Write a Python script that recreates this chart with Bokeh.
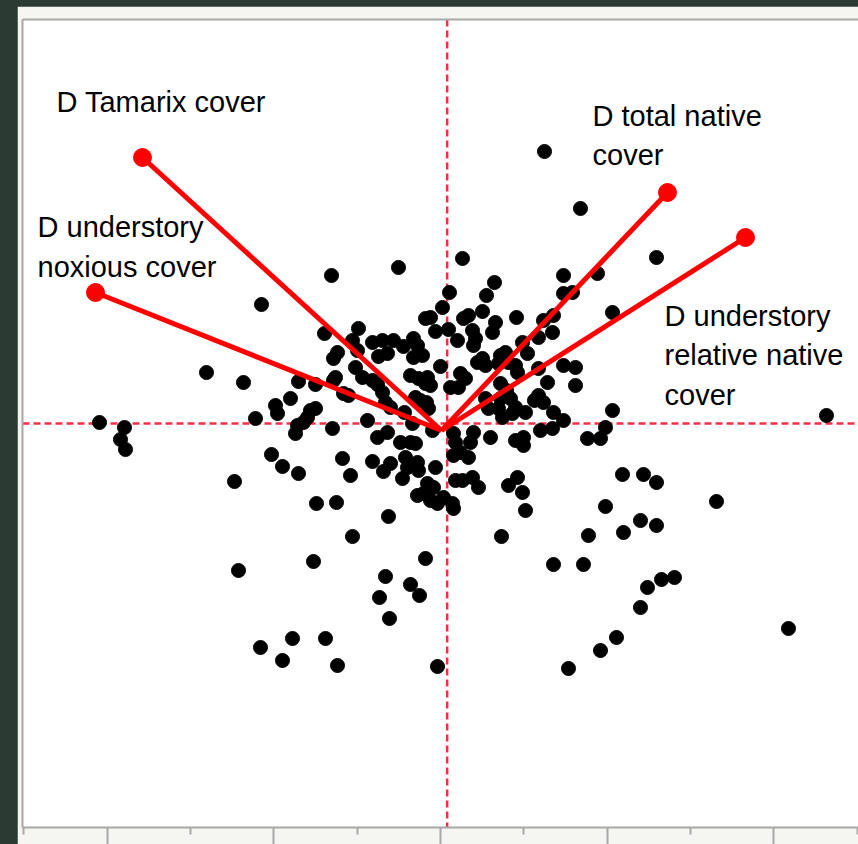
from bokeh.plotting import figure
from bokeh.models import Range1d, FixedTicker, LinearAxis, Span, Spacer
from bokeh.layouts import column, row
from bokeh.embed import file_html
from bokeh.resources import INLINE
from bokeh.core.properties import value

# ---- data (ordination scores) ----
site_x = [
    -2.046, -1.896, -1.920, -1.890, -1.404, -1.182, -1.074, -1.236, -1.212, -1.080,
    -0.948, -0.888, -1.014, -0.948, -0.852, -0.990, -0.978, -0.900, -0.852, -0.858,
    -0.870, -1.110, -0.690, -0.618, -0.744, -0.624, -0.762, -0.528, -0.330, -0.180,
    -0.126, -0.366, -0.306, -0.090, -0.018, -0.312,
    -0.654, -0.252, -0.492, -0.696, -0.528, -0.618, -0.642, -0.408, -0.348, -0.282,
    -0.222, -0.162, -0.138, -0.108, -0.162, -0.318, -0.372, -0.498, -0.510, -0.468,
    -0.630, -0.180, -0.132, -0.090, -0.408, -0.378, -0.750, -0.642, -0.348, -0.330,
    -0.300, -0.150, -0.120, -0.084, -0.072, -0.216, -0.168, -0.438, -0.582, -0.552,
    -0.780, -0.750, -0.798, -0.822, -0.648, -0.378, -0.318, -0.240, -0.180, -0.150,
    -0.048, -0.588, -0.540, -0.408, -0.342, -0.300, -0.228, -0.198, -0.138, -0.132,
    -0.210, -0.078, -0.102, -0.138, -0.060, -0.018, 0.018, 0.072, 0.078, -0.042,
    0.132, 0.324, 0.054, 0.276, 0.738, 0.942, 0.738, 0.792, 0.012, -0.090,
    -0.060, 0.168, 0.138, 0.252, 0.456, 1.032, 0.618, 0.678, 0.330, 0.312,
    0.048, -0.030, 0.192, 0.210, 0.198, 0.102, 0.588, 0.672, 0.492, 0.522,
    0.390, 0.360, 0.348, 0.408, 0.252, 0.222, 0.270, 0.000, 0.120, 0.150,
    -0.078, 0.450, 0.462, 0.588, 0.738, 0.810, 0.642, 0.810, 0.360, 0.060,
    0.108, -0.060, 0.270, 0.288, 0.360, 0.372, 0.348, 0.420, 0.450, 0.432,
    0.510, 0.588, 0.618, 0.678, 0.738, 0.672, 0.600, 1.032, 0.990, 0.960,
    0.882, 0.498, 0.450, 0.498, 0.300, 0.198, 0.180, 0.078, 0.090, 0.078,
    0.168, 0.120, -0.030, 0.090, 0.132, 0.192, 0.228, 0.408, 0.462, 0.492,
    0.510, 0.396, 0.564,
    0.366, 1.092, 1.218, 1.296, 1.656, 0.990, 1.200, 1.296, 1.098, 0.888,
    0.678, 0.858, 1.326, 1.404, 1.242, 1.200, 2.088, 1.056, 0.960, 0.768,
    2.316, 0.624, 0.840, 1.296,
]
site_y = [
    0.006, -0.024, -0.096, -0.156, 0.306, 0.246, 0.714, -0.348, -0.882, -1.344,
    -1.422, -1.290, -0.186, -0.258, -0.300, 0.108, 0.060, 0.150, 0.252, -0.012,
    -0.060, 0.030, -1.290, -1.452, -0.480, -0.474, -0.828, -0.678, -0.918, -0.966,
    -1.032, -1.044, -1.170, -0.810, -1.458, -0.558,
    0.888, 0.936, 0.570, 0.540, 0.498, 0.426, 0.390, 0.486, 0.498, 0.498,
    0.462, 0.510, 0.468, 0.408, 0.396, 0.420, 0.402, 0.438, 0.336, 0.276,
    0.276, 0.288, 0.270, 0.240, 0.258, 0.234, 0.234, 0.258, 0.186, 0.126,
    0.096, 0.156, 0.138, 0.126, 0.090, 0.066, 0.000, 0.018, 0.180, 0.168,
    0.078, 0.090, 0.036, 0.006, -0.030, -0.084, -0.054, -0.114, -0.114, -0.120,
    -0.042, -0.210, -0.312, -0.228, -0.288, -0.240, -0.330, -0.264, -0.234, -0.282,
    -0.204, -0.360, -0.420, -0.432, -0.462, -0.480, -0.444, -0.480, -0.510, -0.384,
    0.990, 0.846, 0.786, 0.768, 0.888, 0.900, 0.780, 0.786, 0.696, 0.630,
    0.636, 0.648, 0.630, 0.672, 0.636, 0.666, 0.618, 0.648, 0.606, 0.546,
    0.564, 0.552, 0.558, 0.510, 0.468, 0.498, 0.516, 0.546, 0.486, 0.420,
    0.426, 0.408, 0.360, 0.366, 0.390, 0.366, 0.348, 0.342, 0.300, 0.270,
    0.276, 0.348, 0.306, 0.330, 0.348, 0.336, 0.246, 0.228, 0.240, 0.216,
    0.216, 0.228, 0.150, 0.090, 0.150, 0.036, 0.090, 0.150, 0.096, 0.060,
    0.066, 0.168, 0.126, 0.066, 0.018, -0.030, -0.042, 0.078, -0.024, -0.090,
    -0.090, -0.084, -0.102, -0.132, -0.084, -0.054, -0.114, -0.060, -0.114, -0.192,
    -0.204, -0.174, -0.264, -0.342, -0.342, -0.324, -0.384, -0.372, -0.324, -0.414,
    -0.522, 0.198, 0.138,
    -0.678, -0.306, -0.306, -0.354, -0.468, -0.498, -0.582, -0.612, -0.654, -0.672,
    -0.846, -0.846, -0.936, -0.924, -0.984, -1.104, -1.230, -1.284, -1.362, -1.470,
    0.048, 1.632, 1.290, 0.996,
]

var_names = ["D Tamarix cover", "D understory\nnoxious cover",
             "D total native\ncover", "D understory\nrelative native\ncover"]
var_x = [-1.788, -2.070, 1.362, 1.830]
var_y = [1.596, 0.786, 1.386, 1.116]
origin_x = [0.006] * 4
origin_y = [-0.042] * 4

# label anchor points (data units)
label_x = [-2.304, -2.418, 0.912, 1.344]
label_y = [1.932, 1.059, 1.728, 0.408]

major_ticks = [-2, -1, 0, 1, 2]
minor_ticks = [-2.5, -1.5, -0.5, 0.5, 1.5, 2.5]

X_START, X_END = -2.508, 2.508
Y_START, Y_END = -2.424, 2.424

AXIS_GREY = "#a8a8a8"
PANEL = "#f5f6f1"
DARK = "#2b3a32"
DASH_RED = "#f03048"

p = figure(width=841, height=838,
           x_range=Range1d(X_START, X_END), y_range=Range1d(Y_START, Y_END),
           output_backend="svg", toolbar_location=None,
           min_border_left=5, min_border_right=0, min_border_top=13, min_border_bottom=17,
           background_fill_color="white", border_fill_color=PANEL,
           outline_line_color=None)
p.xgrid.visible = False
p.ygrid.visible = False

# bottom axis: ticks only, no labels drawn
xa = p.xaxis[0]
xa.ticker = FixedTicker(ticks=major_ticks, minor_ticks=minor_ticks)
xa.axis_line_color = AXIS_GREY
xa.axis_line_width = 2
xa.major_tick_line_color = AXIS_GREY
xa.major_tick_line_width = 2
xa.major_tick_out = 17
xa.major_tick_in = 0
xa.minor_tick_line_color = AXIS_GREY
xa.minor_tick_line_width = 2
xa.minor_tick_out = 7
xa.minor_tick_in = 0
xa.major_label_text_color = None
xa.major_label_text_font_size = "1px"
xa.major_label_standoff = 0

# left axis: border line only
ya = p.yaxis[0]
ya.ticker = FixedTicker(ticks=[])
ya.axis_line_color = AXIS_GREY
ya.axis_line_width = 2
ya.major_tick_out = 0
ya.minor_tick_out = 0
ya.major_label_text_color = None
ya.major_label_text_font_size = "1px"
ya.major_label_standoff = 0

# top border line
top = LinearAxis(ticker=FixedTicker(ticks=[]), axis_line_color=AXIS_GREY, axis_line_width=2,
                 major_tick_out=0, minor_tick_out=0, major_label_text_color=None,
                 major_label_text_font_size="1px", major_label_standoff=0)
p.add_layout(top, "above")

# dashed zero lines
p.add_layout(Span(location=0.04, dimension="height", line_color=DASH_RED, line_width=2.5,
                  line_dash="7 4", level="underlay"))
p.add_layout(Span(location=0.0, dimension="width", line_color=DASH_RED, line_width=2.5,
                  line_dash="7 4", level="underlay"))

# sites
p.scatter(site_x, site_y, size=14, color="black")

# variable vectors
p.segment(x0=origin_x, y0=origin_y, x1=var_x, y1=var_y, line_color="#ff0000", line_width=5)
p.scatter(var_x, var_y, size=18, color="#ff0000")

p.text(x=label_x, y=label_y, text=var_names, text_font=value("Liberation Sans"),
       text_font_size="29px", text_align="left", text_baseline="middle",
       text_line_height=1.23, text_color="black")

layout = column(Spacer(width=858, height=6),
                row(Spacer(width=17, height=838), p, spacing=0),
                spacing=0, styles={"background-color": DARK})

html = file_html(layout, INLINE)
html = html.replace("<body>", '<body style="margin:0;background:%s;overflow:hidden">' % DARK, 1)
open("out.html", "w").write(html)
